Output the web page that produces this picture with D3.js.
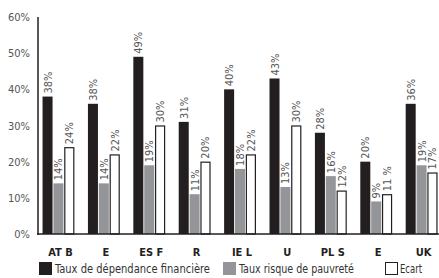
<!DOCTYPE html>
<html><head><meta charset="utf-8">
<script src="https://cdn.jsdelivr.net/npm/d3@7"></script>
<style>body{margin:0;background:#fff}svg{display:block;font-family:"Liberation Sans Narrow","DejaVu Sans Condensed",sans-serif}</style>
</head><body><svg id="c" width="439" height="278"></svg>
<script>
const categories = ["AT B","E","ES F","R","IE L","U","PL S","E","UK"];
const seriesNames = ["Taux de dépendance financière","Taux risque de pauvreté","Ecart"];
const dependance = [38,36,49,31,40,43,28,20,36];
const dependanceLabels = ["38%","38%","49%","31%","40%","43%","28%","20%","36%"];
const pauvrete = [14,14,19,11,18,13,16,9,19];
const pauvreteLabels = ["14%","14%","19%","11%","18%","13%","16%","9%","19%"];
const ecart = [24,22,30,20,22,30,12,11,17];
const ecartLabels = ["24%","22%","30%","20%","22%","30%","12%","11 %","17%"];
const yTicks = [0,10,20,30,40,50,60];

const svg = d3.select("#c");
const y = d3.scaleLinear().domain([0,60]).range([234,17]);
const x = d3.scaleBand().domain(d3.range(categories.length)).range([38,442]).paddingInner(0.3).paddingOuter(0.1);
const xs = d3.scaleBand().domain([0,1,2]).range([0,x.bandwidth()]).paddingInner(0.08);
const fills = ["#231f20","#939598","#ffffff"];
const series = [
  {vals:dependance, labels:dependanceLabels},
  {vals:pauvrete, labels:pauvreteLabels},
  {vals:ecart, labels:ecartLabels}
];

svg.append("g").selectAll("text").data(yTicks).join("text")
  .attr("x",30).attr("y",d=>y(d)+4).attr("text-anchor","end")
  .attr("font-size",11).attr("fill","#555").text(d=>d+"%");

series.forEach((s,si)=>{
  const g = svg.append("g");
  g.selectAll("rect").data(s.vals).join("rect")
    .attr("x",(d,i)=>x(i)+xs(si)+(si==2?0.5:0))
    .attr("y",d=>y(d)+(si==2?0.5:0))
    .attr("width",xs.bandwidth()-(si==2?1:0))
    .attr("height",d=>y(0)-y(d)-(si==2?0.5:0))
    .attr("fill",fills[si])
    .attr("stroke",si==2?"#231f20":"none").attr("stroke-width",1.2);
  g.selectAll("text").data(s.vals).join("text")
    .attr("transform",(d,i)=>`translate(${x(i)+xs(si)+xs.bandwidth()/2+4},${y(d)-3}) rotate(-90)`)
    .attr("font-size",11).attr("fill","#555")
    .text((d,i)=>s.labels[i]);
});

svg.append("line").attr("x1",38).attr("x2",38).attr("y1",y(60)).attr("y2",y(0)+1).attr("stroke","#231f20").attr("stroke-width",1.5);
svg.append("line").attr("x1",37).attr("x2",439).attr("y1",y(0)).attr("y2",y(0)).attr("stroke","#231f20").attr("stroke-width",1.5);

svg.append("g").selectAll("text").data(categories).join("text")
  .attr("x",(d,i)=>x(i)+x.bandwidth()/2+2).attr("y",256).attr("text-anchor","middle")
  .attr("font-size",11).attr("font-weight","bold").attr("fill","#231f20").text(d=>d);

const legX = [39,223,385];
const legW = [155,115,22];
const lg = svg.append("g");
seriesNames.forEach((n,i)=>{
  lg.append("rect").attr("x",legX[i]+(i==2?0.5:0)).attr("y",262+(i==2?0.5:0))
    .attr("width",i==2?12:13).attr("height",i==2?12:13)
    .attr("fill",fills[i]).attr("stroke",i==2?"#231f20":"none");
  lg.append("text").attr("x",legX[i]+(i==2?15:16)).attr("y",273).attr("font-size",11.5).attr("fill","#333")
    .attr("textLength",legW[i]).attr("lengthAdjust","spacingAndGlyphs").text(n);
});
</script></body></html>
